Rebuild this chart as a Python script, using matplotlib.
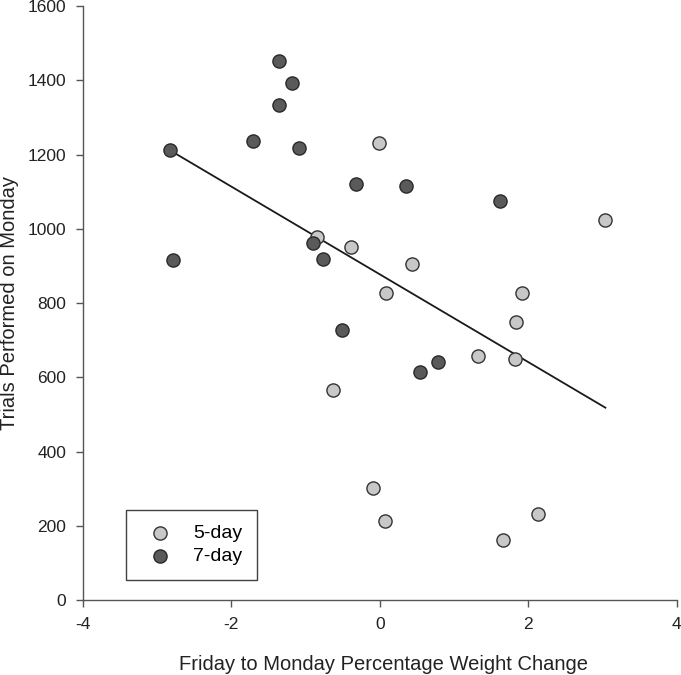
import matplotlib

matplotlib.use("Agg")
import matplotlib.pyplot as plt

plt.rcParams["font.family"] = ["Liberation Sans", "DejaVu Sans"]
plt.rcParams["axes.unicode_minus"] = False

# 5-day group
x5 = [-0.01, -0.85, -0.38, 0.44, 0.09, 3.03, 1.92, 1.84, 1.33, 1.82,
      -0.63, -0.09, 0.07, 2.13, 1.66]
y5 = [1231, 978, 951, 905, 827, 1024, 827, 749, 657, 649,
      566, 302, 213, 232, 162]

# 7-day group
x7 = [-2.83, -2.79, -1.36, -1.18, -1.36, -1.70, -1.09, -0.32, 0.36, 1.62,
      -0.90, -0.77, -0.51, 0.54, 0.79]
y7 = [1212, 916, 1452, 1393, 1333, 1236, 1218, 1120, 1115, 1075,
      962, 918, 727, 614, 641]

# regression line endpoints
fit_x = [-2.83, 3.04]
fit_y = [1212, 518]

fig = plt.figure(figsize=(6.81, 6.75), dpi=100)
ax = fig.add_axes([0.1214, 0.1111, 0.8723, 0.88])

ax.plot(fit_x, fit_y, color="#1a1a1a", lw=1.3, zorder=2)
ax.scatter(x5, y5, s=90, facecolor="#c8c8c8", edgecolor="#333333",
           linewidth=1.0, label="5-day", zorder=3)
ax.scatter(x7, y7, s=90, facecolor="#5a5a5a", edgecolor="#2a2a2a",
           linewidth=1.0, label="7-day", zorder=3)

ax.set_xlim(-4, 4)
ax.set_ylim(0, 1600)
ax.set_xticks([-4, -2, 0, 2, 4])
ax.set_yticks(range(0, 1601, 200))

for side in ("top", "right"):
    ax.spines[side].set_visible(False)
for side in ("left", "bottom"):
    ax.spines[side].set_color("#555555")
    ax.spines[side].set_linewidth(1.0)
ax.tick_params(direction="out", length=5, width=1.0, color="#555555",
               labelsize=12.5, labelcolor="#222222", pad=7)

ax.set_xlabel("Friday to Monday Percentage Weight Change", fontsize=14.5,
              color="#222222", labelpad=16)
ax.xaxis.set_label_coords(0.507, -0.093)
ax.set_ylabel("Trials Performed on Monday", fontsize=14.5, color="#222222",
              labelpad=6)

leg = ax.legend(loc="lower left", bbox_to_anchor=(0.073, 0.034),
                fontsize=14, frameon=True, fancybox=False,
                borderpad=0.75, handletextpad=0.7, labelspacing=0.3,
                borderaxespad=0)
leg.get_frame().set_edgecolor("#111111")
leg.get_frame().set_linewidth(1.0)

fig.savefig("out.png", dpi=100)
